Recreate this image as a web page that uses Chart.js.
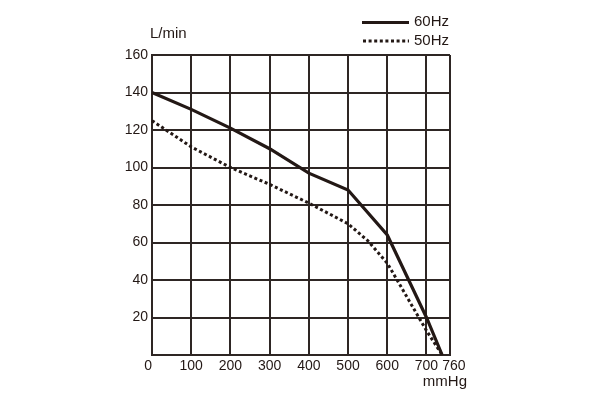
<!DOCTYPE html>
<html>
<head>
<meta charset="utf-8">
<title>L/min vs mmHg</title>
<script src="https://cdn.jsdelivr.net/npm/chart.js@4.4.1/dist/chart.umd.min.js"></script>
<style>
html, body { margin: 0; padding: 0; background: #fff; }
#myChart { display: block; }
</style>
</head>
<body>
<canvas id="myChart" width="604" height="398"></canvas>
<script>
//chart data
var xTicks = [0, 100, 200, 300, 400, 500, 600, 700, 760];
var yTicks = [20, 40, 60, 80, 100, 120, 140, 160];

var pressure60 = [0, 100, 200, 300, 400, 500, 600, 700, 740];
var flow60 = [140, 131, 121, 110, 97, 88, 64, 20, 0];

var pressure50 = [0, 100, 200, 300, 400, 500, 550, 600, 650, 700, 740];
var flow50 = [125, 111, 100, 91, 81, 70, 61, 49, 31, 13, 0];

var seriesNames = ["60Hz", "50Hz"];
var yUnit = "L/min";
var xUnit = "mmHg";

var ink = '#231815';
var gridInk = '#2e2624';
var fontFamily = '"Liberation Sans", Arial, Helvetica, sans-serif';
var nbsp = '\u00a0';

//turn two arrays into {x, y} points
function toPoints(xs, ys){
	var pts = [];
	for(var i = 0; i < xs.length; i++){
		pts.push({x: xs[i], y: ys[i]});
	}
	return pts;
}

//draws the unit labels and the little legend in the top right
var labelsPlugin = {
	id: 'unitLabels',
	afterDraw: function(chart){
		var ctx = chart.ctx;
		var area = chart.chartArea;
		ctx.save();
		ctx.fillStyle = ink;
		ctx.font = '15px ' + fontFamily;
		ctx.textBaseline = 'middle';

		//axis units
		ctx.textAlign = 'left';
		ctx.fillText(yUnit, area.left - 2, area.top - 21);
		ctx.textAlign = 'right';
		ctx.fillText(xUnit, area.right + 17, area.bottom + 27);

		//legend
		var lx0 = 362, lx1 = 409, tx = 414;
		ctx.strokeStyle = ink;
		ctx.lineWidth = 3;
		ctx.lineCap = 'butt';
		ctx.beginPath();
		ctx.setLineDash([]);
		ctx.moveTo(lx0, 22.5);
		ctx.lineTo(lx1, 22.5);
		ctx.stroke();
		ctx.beginPath();
		ctx.setLineDash([3, 2.6]);
		ctx.moveTo(lx0 + 1, 41);
		ctx.lineTo(lx1, 41);
		ctx.stroke();
		ctx.setLineDash([]);
		ctx.textAlign = 'left';
		ctx.fillText(seriesNames[0], tx, 22);
		ctx.fillText(seriesNames[1], tx, 40.5);
		ctx.restore();
	}
};

//first and last x labels sit a bit off their grid line, like the original
function xLabel(value){
	if(value == 0){
		return value + nbsp + nbsp;
	}
	if(value == 760){
		return nbsp + nbsp + value;
	}
	return '' + value;
}

function showChart(){
	var ctx = document.getElementById('myChart');

	var data = {
		datasets: [
			{
				label: seriesNames[0],
				data: toPoints(pressure60, flow60),
				borderColor: ink,
				borderWidth: 3.2,
				pointRadius: 0,
				tension: 0,
				clip: false
			},
			{
				label: seriesNames[1],
				data: toPoints(pressure50, flow50),
				borderColor: ink,
				borderWidth: 3,
				borderDash: [3, 2.6],
				borderCapStyle: 'butt',
				pointRadius: 0,
				tension: 0,
				clip: false
			}
		]
	};

	new Chart(ctx, {
		type: 'line',
		data: data,
		plugins: [labelsPlugin],
		options: {
			responsive: false,
			animation: false,
			layout: {
				padding: {left: 112, right: 154, top: 55, bottom: 13}
			},
			plugins: {
				legend: {display: false},
				tooltip: {enabled: false}
			},
			scales: {
				x: {
					type: 'linear',
					min: 0,
					max: 760,
					afterBuildTicks: function(scale){
						scale.ticks = xTicks.map(function(v){ return {value: v}; });
					},
					afterFit: function(scale){
						scale.height = 30;
					},
					grid: {color: gridInk, lineWidth: 2, drawTicks: false},
					border: {color: gridInk, width: 2},
					ticks: {
						color: ink,
						padding: 3,
						autoSkip: false,
						maxRotation: 0,
						font: {family: fontFamily, size: 14},
						callback: xLabel
					}
				},
				y: {
					type: 'linear',
					min: 0,
					max: 160,
					afterBuildTicks: function(scale){
						scale.ticks = yTicks.map(function(v){ return {value: v}; });
					},
					afterFit: function(scale){
						scale.width = 40;
					},
					grid: {color: gridInk, lineWidth: 2, drawTicks: false},
					border: {color: gridInk, width: 2},
					ticks: {
						color: ink,
						padding: 4,
						font: {family: fontFamily, size: 14}
					}
				}
			}
		}
	});
}

showChart();
</script>
</body>
</html>
